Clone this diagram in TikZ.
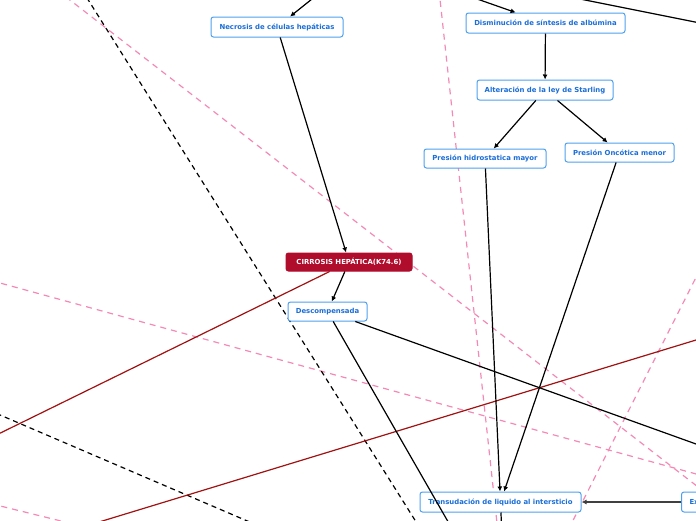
\documentclass[tikz,border=0pt]{standalone}
\usepackage{fontspec}
\newfontfamily\mapfont{DejaVu Sans}
\usetikzlibrary{arrows.meta,positioning}
\pgfdeclarelayer{background}
\pgfsetlayers{background,main}
\definecolor{boxblue}{HTML}{4DA0F0}
\definecolor{txtblue}{HTML}{1A6ED8}
\definecolor{rootred}{HTML}{B00C2C}
\definecolor{relred}{HTML}{A01212}
\definecolor{relpink}{HTML}{F48AB4}
\definecolor{linkgray}{HTML}{404040}

\begin{document}
\begin{tikzpicture}[x=1pt,y=-1pt,
  box/.style={rectangle,rounded corners=2.5pt,draw=boxblue,line width=1pt,fill=white,text=txtblue,inner sep=0pt,minimum height=20pt,font=\mapfont\bfseries\fontsize{6.9}{8}\selectfont},
  root/.style={box,draw=rootred,fill=rootred,text=white,minimum height=18pt},
  arr/.style={-{Latex[length=5pt,width=5pt]},line width=1.2pt},
  link/.style={line width=1.2pt},
  dlink/.style={line width=1.2pt,dash pattern=on 5pt off 4pt},
  plink/.style={line width=1.2pt,relpink,dash pattern=on 6pt off 5pt},
  rlink/.style={line width=1.2pt,relred}]
  \useasboundingbox (0,0) rectangle (696,520);

  \node[box,minimum width=132pt] (necrosis) at (277,27) {Necrosis de células hepáticas};
  \node[box,minimum width=159pt] (albumina) at (545.5,23) {Disminución de síntesis de albúmina};
  \node[box,minimum width=136pt] (starling) at (545,90) {Alteración de la ley de Starling};
  \node[box,minimum width=122pt,minimum height=19pt] (hidro) at (485,158.5) {Presión hidrostatica mayor};
  \node[box,minimum width=109pt,minimum height=19pt] (oncotica) at (619.5,152.5) {Presión Oncótica menor};
  \node[root,minimum width=126pt] (cirrosis) at (349,262) {CIRROSIS HEPÁTICA(K74.6)};
  \node[box,minimum width=79pt,minimum height=19pt] (descomp) at (327.5,311.5) {Descompensada};
  \node[box,minimum width=161pt] (trans) at (500.5,502) {Transudación de liquido al intersticio};
  \node[box,anchor=west,inner xsep=8pt,text width=44pt,align=left] (ex) at (681,502) {Ex};

  \coordinate (necrosis-in) at (332,-17);
  \coordinate (albumina-in) at (443,-13);
  \coordinate (top-a) at (560,-5);
  \coordinate (top-b) at (760,35);
  \coordinate (descomp-s) at (470,560);
  \coordinate (descomp-e) at (760,467);
  \coordinate (trans-s) at (503,560);
  \coordinate (red-w) at (-20,443);
  \coordinate (red-a) at (40,540);
  \coordinate (red-b) at (760,320.5);
  \coordinate (dash-a) at (82,-10);
  \coordinate (dash-b) at (440,560);
  \coordinate (dash-c) at (-20,406.4);
  \coordinate (dash-d) at (280,535);
  \coordinate (pink-a) at (57,-10);
  \coordinate (pink-b) at (760,535);
  \coordinate (pink-c) at (439,-10);
  \coordinate (pink-d) at (501,560);
  \coordinate (pink-e) at (720,230);
  \coordinate (pink-f) at (553,560);
  \coordinate (pink-g) at (-20,277.5);
  \coordinate (pink-h) at (760,491.5);
  \coordinate (pink-i) at (-20,501);
  \coordinate (pink-j) at (100,530.6);

  \begin{pgfonlayer}{background}
    \draw[plink] (pink-a) -- (pink-b);
    \draw[plink] (pink-c) -- (pink-d);
    \draw[plink] (pink-e) -- (pink-f);
    \draw[plink] (pink-g) -- (pink-h);
    \draw[plink] (pink-i) -- (pink-j);
    \draw[dlink] (dash-a) -- (dash-b);
    \draw[dlink] (dash-c) -- (dash-d);
    \draw[rlink] (cirrosis) -- (red-w);
    \draw[rlink] (red-a) -- (red-b);
  \end{pgfonlayer}

  \draw[arr] (necrosis-in) -- (necrosis);
  \draw[arr] (necrosis) -- (cirrosis);
  \draw[arr] (cirrosis) -- (descomp);
  \draw[link] (descomp) -- (descomp-s);
  \draw[link] (descomp) -- (descomp-e);
  \draw[arr] (albumina-in) -- (albumina);
  \draw[link] (top-a) -- (top-b);
  \draw[arr] (albumina) -- (starling);
  \draw[arr] (starling) -- (hidro);
  \draw[arr] (starling) -- (oncotica);
  \draw[arr] (hidro) -- (trans);
  \draw[arr] (oncotica) -- (trans);
  \draw[link] (trans) -- (trans-s);
  \draw[arr,linkgray,line width=1.6pt] (ex) -- (trans);
\end{tikzpicture}
\end{document}
